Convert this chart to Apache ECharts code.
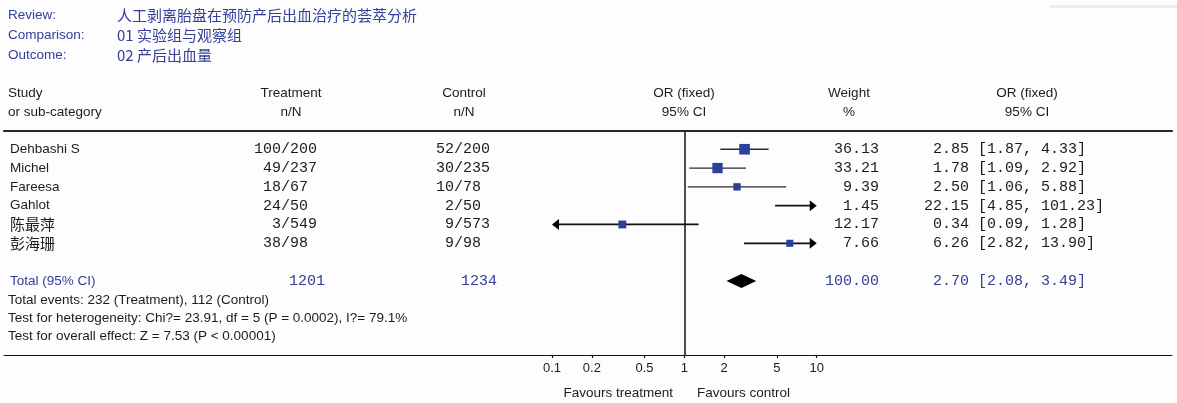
<!DOCTYPE html>
<html><head><meta charset="utf-8">
<script src="https://cdn.jsdelivr.net/npm/echarts@6/dist/echarts.min.js"></script>
<style>html,body{margin:0;padding:0;background:#fdfdfd}#chart{width:1177px;height:403px}</style>
</head><body><div id="chart"></div>
<script>
// ---------- data ----------
const studies = ['Dehbashi S', 'Michel', 'Fareesa', 'Gahlot', '陈最萍', '彭海珊'];
const treatEvents = [100, 49, 18, 24, 3, 38];
const treatTotal = [200, 237, 67, 50, 549, 98];
const ctrlEvents = [52, 30, 10, 2, 9, 9];
const ctrlTotal = [200, 235, 78, 50, 573, 98];
const weights = [36.13, 33.21, 9.39, 1.45, 12.17, 7.66];
const orValues = [2.85, 1.78, 2.50, 22.15, 0.34, 6.26];
const ciLow = [1.87, 1.09, 1.06, 4.85, 0.09, 2.82];
const ciHigh = [4.33, 2.92, 5.88, 101.23, 1.28, 13.90];

const totalLabel = 'Total (95% CI)';
const totalTreat = 1201;
const totalCtrl = 1234;
const totalWeight = 100.00;
const totalOR = 2.70;
const totalLow = 2.08;
const totalHigh = 3.49;

const tickValues = [0.1, 0.2, 0.5, 1, 2, 5, 10];
const tickLabels = ['0.1', '0.2', '0.5', '1', '2', '5', '10'];

const headerKeys = ['Review:', 'Comparison:', 'Outcome:'];
const headerVals = ['人工剥离胎盘在预防产后出血治疗的荟萃分析', '01 实验组与观察组', '02 产后出血量'];
const statLines = [
  'Total events: 232 (Treatment), 112 (Control)',
  'Test for heterogeneity: Chi?= 23.91, df = 5 (P = 0.0002), I?= 79.1%',
  'Test for overall effect: Z = 7.53 (P < 0.00001)'
];

// ---------- layout / style ----------
const SANS = "'Liberation Sans', Arial, sans-serif";
const MONO = "'Liberation Mono', 'Courier New', monospace";
const CJK = "'Noto Sans CJK SC', sans-serif";
const BLUE = '#34409a';
const INK = '#1c1c1c';
const SQUARE = '#2b3f9e';
const X_MIN = -5.14, X_MAX = 3.684;   // log10 units across the full width
const Y_MIN = -0.97, Y_MAX = 10.94;   // row units
const TOTAL_ROW = 7;
const COL = { study: 10, treat: 254, ctrl: 436, weight: 879, orci: 924, treatTot: 325, ctrlTot: 497 };
const lg = Math.log10;
const P_MIN = lg(tickValues[0]), P_MAX = lg(tickValues[tickValues.length - 1]);
const hasCJK = s => /[\u4e00-\u9fff]/.test(s);

function txt(x, y, text, opt) {
  return {
    type: 'text', x: x, y: y, silent: true,
    style: Object.assign({ text: text, fill: INK, fontSize: 13.5, fontFamily: SANS, align: 'left', verticalAlign: 'middle' }, opt || {})
  };
}
const orText = (o, l, h) => o.toFixed(2).padStart(5) + ' [' + l.toFixed(2) + ', ' + h.toFixed(2) + ']';

function renderStudy(params, api) {
  const i = params.dataIndex;
  const y = api.coord([0, i])[1];
  const lo = lg(ciLow[i]), hi = lg(ciHigh[i]), est = lg(orValues[i]);
  const aL = lo < P_MIN, aR = hi > P_MAX;
  const x0 = api.coord([Math.max(lo, P_MIN), i])[0];
  const x1 = api.coord([Math.min(hi, P_MAX), i])[0];
  const ch = [];
  ch.push({ type: 'line', silent: true, shape: { x1: x0 + (aL ? 5 : 0), y1: y, x2: x1 - (aR ? 5 : 0), y2: y },
    style: { stroke: (aL || aR) ? '#111' : '#2a2a2a', lineWidth: (aL || aR) ? 1.8 : 1.3 } });
  if (aR) ch.push({ type: 'polygon', silent: true, shape: { points: [[x1, y], [x1 - 7, y - 5.5], [x1 - 7, y + 5.5]] }, style: { fill: '#000' } });
  if (aL) ch.push({ type: 'polygon', silent: true, shape: { points: [[x0, y], [x0 + 7, y - 5.5], [x0 + 7, y + 5.5]] }, style: { fill: '#000' } });
  if (est >= P_MIN && est <= P_MAX) {
    const s = 4 + 1.1 * Math.sqrt(weights[i]);
    const xc = api.coord([est, i])[0];
    ch.push({ type: 'rect', silent: true, shape: { x: xc - s / 2, y: y - s / 2, width: s, height: s }, style: { fill: SQUARE } });
  }
  const name = studies[i];
  ch.push(txt(COL.study, y, name, hasCJK(name) ? { fontFamily: CJK, fontSize: 15 } : {}));
  ch.push(txt(COL.treat, y, String(treatEvents[i]).padStart(3) + '/' + treatTotal[i], { fontFamily: MONO, fontSize: 15 }));
  ch.push(txt(COL.ctrl, y, String(ctrlEvents[i]).padStart(2) + '/' + ctrlTotal[i], { fontFamily: MONO, fontSize: 15 }));
  ch.push(txt(COL.weight, y, weights[i].toFixed(2), { fontFamily: MONO, fontSize: 15, align: 'right' }));
  ch.push(txt(COL.orci, y, orText(orValues[i], ciLow[i], ciHigh[i]), { fontFamily: MONO, fontSize: 15 }));
  return { type: 'group', children: ch };
}

function renderTotal(params, api) {
  const r = api.value(1);
  const y = api.coord([0, r])[1];
  const xl = api.coord([lg(totalLow), r])[0];
  const xr = api.coord([lg(totalHigh), r])[0];
  const xc = api.coord([lg(totalOR), r])[0];
  const h = 7;
  const mono = { fontFamily: MONO, fontSize: 15, fill: BLUE };
  return { type: 'group', children: [
    { type: 'polygon', silent: true, shape: { points: [[xl, y], [xc, y - h], [xr, y], [xc, y + h]] }, style: { fill: '#000' } },
    txt(COL.study, y, totalLabel, { fill: BLUE }),
    txt(COL.treatTot, y, String(totalTreat), Object.assign({ align: 'right' }, mono)),
    txt(COL.ctrlTot, y, String(totalCtrl), Object.assign({ align: 'right' }, mono)),
    txt(COL.weight, y, totalWeight.toFixed(2), Object.assign({ align: 'right' }, mono)),
    txt(COL.orci, y, orText(totalOR, totalLow, totalHigh), mono)
  ] };
}

const graphics = [];
graphics.push({ type: 'rect', silent: true, shape: { x: 1050, y: 5, width: 127, height: 3 }, style: { fill: '#ececec' } });
headerKeys.forEach((k, i) => {
  graphics.push({ type: 'text', x: 8, y: 15 + i * 20, style: { text: k, fill: BLUE, fontSize: 13.5, fontFamily: SANS, verticalAlign: 'middle' } });
  graphics.push({ type: 'text', x: 117, y: 15 + i * 20, style: { text: headerVals[i], fill: BLUE, fontSize: 15, fontFamily: CJK, verticalAlign: 'middle' } });
});
const colHeads = [
  [8, 'Study', 'or sub-category', 'left'],
  [291, 'Treatment', 'n/N', 'center'],
  [464, 'Control', 'n/N', 'center'],
  [684, 'OR (fixed)', '95% CI', 'center'],
  [849, 'Weight', '%', 'center'],
  [1027, 'OR (fixed)', '95% CI', 'center']
];
colHeads.forEach(c => {
  graphics.push({ type: 'text', x: c[0], y: 93, style: { text: c[1], fill: INK, fontSize: 13.5, fontFamily: SANS, align: c[3], verticalAlign: 'middle' } });
  graphics.push({ type: 'text', x: c[0], y: 112, style: { text: c[2], fill: INK, fontSize: 13.5, fontFamily: SANS, align: c[3], verticalAlign: 'middle' } });
});
statLines.forEach((s, i) => {
  graphics.push({ type: 'text', x: 8, y: 300 + i * 18, style: { text: s, fill: INK, fontSize: 13.5, fontFamily: SANS, verticalAlign: 'middle' } });
});
graphics.push({ type: 'text', x: 673, y: 393, style: { text: 'Favours treatment', fill: INK, fontSize: 13.5, fontFamily: SANS, align: 'right', verticalAlign: 'middle' } });
graphics.push({ type: 'text', x: 697, y: 393, style: { text: 'Favours control', fill: INK, fontSize: 13.5, fontFamily: SANS, align: 'left', verticalAlign: 'middle' } });

const tickLogs = tickValues.map(v => lg(v));
const chart = echarts.init(document.getElementById('chart'), null, { renderer: 'canvas' });
chart.setOption({
  backgroundColor: '#fdfdfd',
  animation: false,
  grid: { left: 4, right: 5, top: 131, bottom: 48 },
  xAxis: [{
    type: 'value', min: X_MIN, max: X_MAX, position: 'bottom',
    splitLine: { show: false },
    axisLine: { onZero: false, lineStyle: { color: '#111', width: 1.2 } },
    axisTick: { customValues: tickLogs, length: 3, lineStyle: { color: '#111', width: 1.2 } },
    axisLabel: {
      customValues: tickLogs, margin: 7, color: INK, fontSize: 13, fontFamily: SANS,
      formatter: v => { const k = tickLogs.findIndex(t => Math.abs(t - v) < 1e-6); return k >= 0 ? tickLabels[k] : ''; }
    }
  }, {
    type: 'value', min: X_MIN, max: X_MAX, position: 'top',
    splitLine: { show: false }, axisTick: { show: false }, axisLabel: { show: false },
    axisLine: { onZero: false, lineStyle: { color: '#2a2a2a', width: 2.2 } }
  }],
  yAxis: { type: 'value', inverse: true, min: Y_MIN, max: Y_MAX, show: false },
  series: [{
    type: 'custom', xAxisIndex: 0, renderItem: renderStudy,
    data: studies.map((s, i) => [lg(orValues[i]), i]),
    markLine: { silent: true, symbol: 'none', label: { show: false }, lineStyle: { color: '#111', width: 1.5, type: 'solid' }, data: [{ xAxis: 0 }] }
  }, {
    type: 'custom', xAxisIndex: 0, renderItem: renderTotal,
    data: [[lg(totalOR), TOTAL_ROW]]
  }],
  graphic: graphics
});
</script></body></html>
